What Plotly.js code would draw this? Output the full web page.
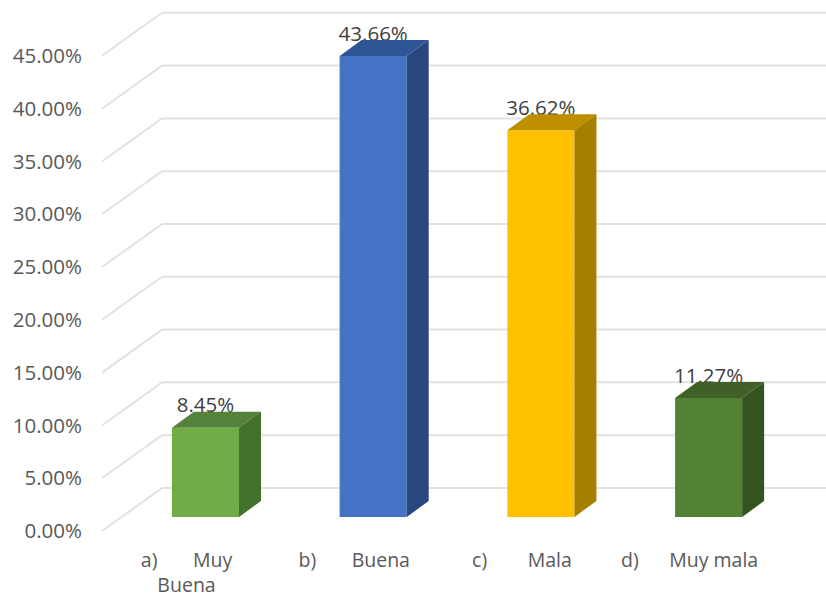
<!DOCTYPE html>
<html>
<head>
<meta charset="utf-8">
<script src="https://cdn.plot.ly/plotly-3.0.1.min.js"></script>
<style>html,body{margin:0;padding:0;background:#fff;overflow:hidden}</style>
</head>
<body>
<div id="chart" style="width:826px;height:597px"></div>
<script>
var sp = function (n) { return new Array(n + 1).join('\u00a0'); };
var categories = ['a)' + sp(7) + 'Muy<br>Buena', 'b)' + sp(7) + 'Buena', 'c)' + sp(8) + 'Mala', 'd)' + sp(6) + 'Muy mala'];
var values = [0.0845, 0.4366, 0.3662, 0.1127];
var valueLabels = ['8.45%', '43.66%', '36.62%', '11.27%'];
var tickValues = [0, 0.05, 0.10, 0.15, 0.20, 0.25, 0.30, 0.35, 0.40, 0.45];
var frontColors = ['#70AD47', '#4472C4', '#FFC000', '#548235'];
var topColors = ['#54823A', '#2F5597', '#BE9000', '#3F6128'];
var sideColors = ['#43702B', '#29477F', '#A67E00', '#34531F'];

var positions = values.map(function (_, i) { return i; });
var barWidth = 0.40;
var depthX = 0.131, depthY = 0.0152;
var wallX = 0.358, wallY = 0.04075;
var labelDrop = 0.0055;
var xRange = [-0.617, 3.70];
var fontName = '"Open Sans", sans-serif';

var traces = [];
traces.push({
  type: 'bar', x: positions, y: values, width: barWidth,
  marker: { color: frontColors, line: { width: 0 } }, hoverinfo: 'skip', showlegend: false
});
traces.push({
  type: 'scatter', mode: 'text', x: positions,
  y: values.map(function (v) { return v + depthY - labelDrop; }),
  text: valueLabels, textposition: 'top center',
  textfont: { family: fontName, size: 20.5, color: '#404040' },
  hoverinfo: 'skip', showlegend: false
});
values.forEach(function (v, i) {
  var l = i - barWidth / 2, r = i + barWidth / 2;
  traces.push({
    type: 'scatter', mode: 'lines', fill: 'toself', fillcolor: topColors[i],
    x: [l, r, r + depthX, l + depthX, l],
    y: [v, v, v + depthY, v + depthY, v],
    line: { width: 0, color: topColors[i] }, hoverinfo: 'skip', showlegend: false
  });
  traces.push({
    type: 'scatter', mode: 'lines', fill: 'toself', fillcolor: sideColors[i],
    x: [r, r + depthX, r + depthX, r, r],
    y: [0, depthY, v + depthY, v, 0],
    line: { width: 0, color: sideColors[i] }, hoverinfo: 'skip', showlegend: false
  });
});
traces.push({
  type: 'scatter', mode: 'markers', x: positions, y: values, xaxis: 'x2', yaxis: 'y2',
  marker: { opacity: 0, size: 1 }, hoverinfo: 'skip', showlegend: false
});

var shapes = [];
tickValues.forEach(function (t) {
  shapes.push({
    type: 'line', layer: 'below', xref: 'x', yref: 'y2',
    x0: xRange[0], y0: t, x1: xRange[0] + wallX, y1: t + wallY,
    line: { color: '#E2E2E2', width: 2 }
  });
  shapes.push({
    type: 'line', layer: 'below', xref: 'x', yref: 'y2',
    x0: xRange[0] + wallX, y0: t + wallY, x1: xRange[1], y1: t + wallY,
    line: { color: '#E2E2E2', width: 2 }
  });
});

var layout = {
  width: 826, height: 597,
  margin: { l: 102, r: 0, t: 0, b: 57, pad: 0 },
  paper_bgcolor: '#fff', plot_bgcolor: 'rgba(0,0,0,0)',
  showlegend: false,
  xaxis: { range: xRange, showgrid: false, zeroline: false, showline: false, showticklabels: false, ticks: '' },
  yaxis: { range: [-0.02178, 0.4896], showgrid: false, zeroline: false, showline: false, showticklabels: false, ticks: '' },
  xaxis2: {
    overlaying: 'x', anchor: 'y2', side: 'bottom',
    range: [xRange[0] + 0.113, xRange[1] + 0.113],
    tickmode: 'array', tickvals: positions, ticktext: categories,
    showgrid: false, zeroline: false, showline: false, ticks: '',
    tickangle: 0, ticklabelstandoff: 6,
    tickfont: { family: fontName, size: 19.5, color: '#595959' }
  },
  yaxis2: {
    overlaying: 'y', anchor: 'x2', side: 'left',
    range: [-0.00852, 0.50285],
    tickmode: 'array', tickvals: tickValues, tickformat: '.2%',
    showgrid: false, zeroline: false, showline: false, ticks: '',
    ticklabelstandoff: 19,
    tickfont: { family: fontName, size: 20.5, color: '#595959' }
  },
  shapes: shapes
};
Plotly.newPlot('chart', traces, layout, { displayModeBar: false, staticPlot: true });
</script>
</body>
</html>
